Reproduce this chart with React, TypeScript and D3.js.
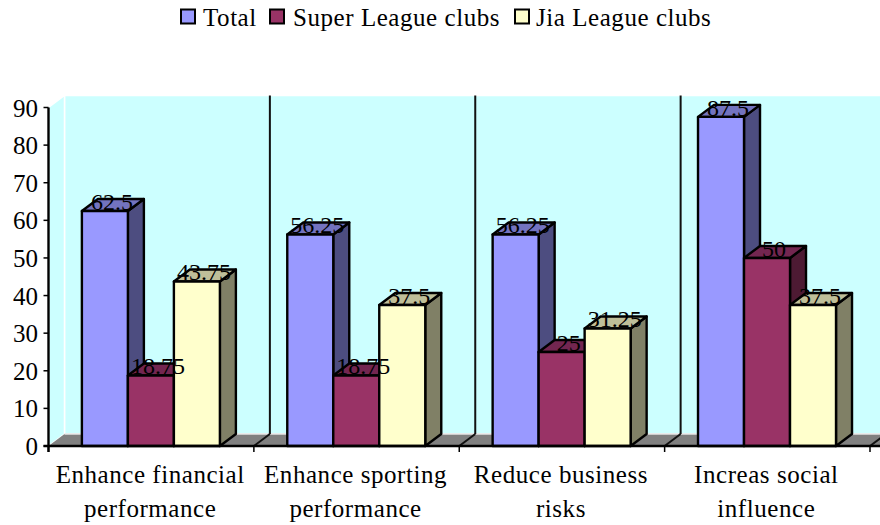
import React from "react";
import * as d3 from "d3";

const categories = [
  ["Enhance financial", "performance"],
  ["Enhance sporting", "performance"],
  ["Reduce business", "risks"],
  ["Increas social", "influence"],
];
const seriesNames = ["Total", "Super League clubs", "Jia League clubs"];
const total = [62.5, 56.25, 56.25, 87.5];
const superLeague = [18.75, 18.75, 25, 50];
const jiaLeague = [43.75, 37.5, 31.25, 37.5];
const seriesValues = [total, superLeague, jiaLeague];
const yTicks = [0, 10, 20, 30, 40, 50, 60, 70, 80, 90];

const frontColors = ["#9999FF", "#993366", "#FFFFCC"];
const topColors = ["#7373BF", "#732650", "#BFBF99"];
const sideColors = ["#4D4D80", "#4D1A33", "#808066"];

const W = 880, H = 525;
const FONT = "'Liberation Serif','Times New Roman',serif";
const DX = 16, DY = 12;
const x0 = 48.5, xEnd = 870, yBase = 446, yTop = 107.5;
const FS = 25;

export default function App() {
  const y = d3.scaleLinear().domain([0, 90]).range([yBase, yTop]);
  const xCat = d3.scaleBand<number>().domain([0, 1, 2, 3]).range([x0, xEnd]);
  const step = xCat.step();
  const barW = 46;
  const pad = (step - 3 * barW) / 2 - 0.3;
  const legendItems = [
    { box: 181, text: 203 },
    { box: 270, text: 293 },
    { box: 515, text: 536 },
  ];
  const poly = (p: number[][]) => p.map((q) => q.join(",")).join(" ");

  return (
    <svg width={W} height={H} style={{ position: "absolute", left: 0, top: 0, background: "#fff" }} fontFamily={FONT} fill="#000">
      {/* walls */}
      <polygon points={poly([[x0 + DX, yTop - DY], [W + 10, yTop - DY], [W + 10, yBase - DY], [x0 + DX, yBase - DY]])} fill="#CCFFFF" stroke="#fff" strokeWidth={1.5} />
      <polygon points={poly([[x0, yTop], [x0 + DX, yTop - DY], [x0 + DX, yBase - DY], [x0, yBase]])} fill="#CCFFFF" stroke="#fff" strokeWidth={1.5} />
      {/* floor */}
      <polygon points={poly([[x0, yBase], [x0 + DX, yBase - DY], [W + 10, yBase - DY], [xEnd + 10, yBase + 0], [xEnd, yBase]])} fill="#808080" stroke="none" />
      <line x1={x0 + DX} x2={W} y1={yBase - DY} y2={yBase - DY} stroke="#E6E6E6" strokeWidth={1.5} />
      {/* dividers */}
      {[1, 2, 3].map((i) => {
        const x = xCat(i)!;
        return (
          <g key={i} stroke="#111" strokeWidth={2}>
            <line x1={x + DX} x2={x + DX} y1={yTop - DY} y2={yBase - DY} />
            <line x1={x} x2={x + DX} y1={yBase} y2={yBase - DY} />
          </g>
        );
      })}
      <line x1={xEnd} x2={xEnd + DX} y1={yBase} y2={yBase - DY} stroke="#111" strokeWidth={2} />
      {/* bars */}
      {categories.map((_, c) =>
        seriesValues.map((vals, s) => {
          const l = xCat(c)! + pad + s * barW;
          const r = l + barW;
          const t = y(vals[c]);
          const sw = { stroke: "#000", strokeWidth: 2.4, strokeLinejoin: "round" as const };
          return (
            <g key={`${c}-${s}`}>
              <polygon points={poly([[r, t], [r + DX, t - DY], [r + DX, yBase - DY], [r, yBase]])} fill={sideColors[s]} {...sw} />
              <polygon points={poly([[l, t], [l + DX, t - DY], [r + DX, t - DY], [r, t]])} fill={topColors[s]} {...sw} />
              <rect x={l} y={t} width={barW} height={yBase - t} fill={frontColors[s]} {...sw} />
            </g>
          );
        })
      )}
      {/* value labels */}
      {categories.map((_, c) =>
        seriesValues.map((vals, s) => (
          <text key={`${c}-${s}`} x={xCat(c)! + pad + s * barW + barW / 2 + 7} y={y(vals[c]) - 1} textAnchor="middle" fontSize={24}>
            {vals[c]}
          </text>
        ))
      )}
      {/* axes */}
      <line x1={x0} x2={x0} y1={yTop} y2={yBase + 6} stroke="#000" strokeWidth={2.4} />
      <line x1={x0 - 5} x2={W} y1={yBase} y2={yBase} stroke="#000" strokeWidth={2.4} />
      {yTicks.map((t) => (
        <g key={t}>
          <line x1={x0 - 5} x2={x0} y1={y(t)} y2={y(t)} stroke="#000" strokeWidth={1.5} />
          <text x={38} y={y(t) + 9} textAnchor="end" fontSize={FS}>{t}</text>
        </g>
      ))}
      {[0, 1, 2, 3].map((i) => (
        <line key={i} x1={xCat(i)!} x2={xCat(i)!} y1={yBase} y2={yBase + 6} stroke="#000" strokeWidth={1.5} />
      ))}
      <line x1={xEnd} x2={xEnd} y1={yBase} y2={yBase + 6} stroke="#000" strokeWidth={1.5} />
      {categories.map((lines, c) => (
        <text key={c} textAnchor="middle" fontSize={FS} letterSpacing={0.55}>
          {lines.map((ln, i) => (
            <tspan key={i} x={xCat(c)! + step / 2 - 1} y={483 + i * 34}>{ln}</tspan>
          ))}
        </text>
      ))}
      {/* legend */}
      {seriesNames.map((n, i) => (
        <g key={n}>
          <rect x={legendItems[i].box} y={9.5} width={14} height={14} fill={frontColors[i]} stroke="#000" strokeWidth={2} />
          <text x={legendItems[i].text} y={26} fontSize={FS} letterSpacing={0.55}>{n}</text>
        </g>
      ))}
    </svg>
  );
}
